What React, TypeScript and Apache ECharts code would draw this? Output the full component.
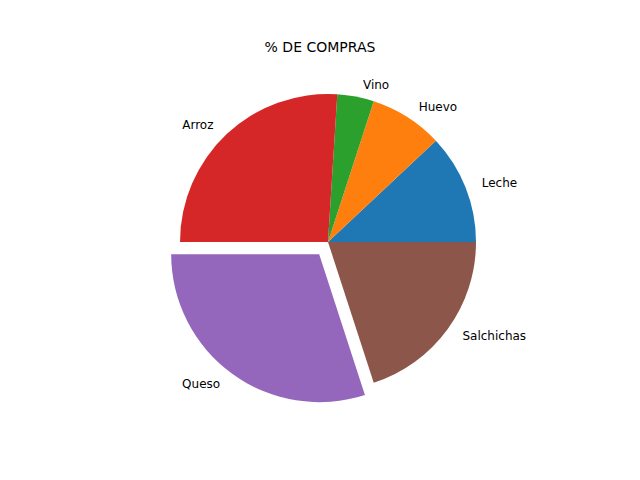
import React, { useEffect, useRef } from 'react';
import * as echarts from 'echarts';

const categories = ['Leche', 'Huevo', 'Vino', 'Arroz', 'Queso', 'Salchichas'];
const values = [12, 8, 4, 26, 30, 20];
const colors = ['#1f77b4', '#ff7f0e', '#2ca02c', '#d62728', '#9467bd', '#8c564b'];
const exploded = 'Queso';

const App: React.FC = () => {
  const chartRef = useRef<HTMLDivElement | null>(null);

  useEffect(() => {
    document.body.style.margin = '0';
    const chart = echarts.init(chartRef.current!, undefined, { renderer: 'svg' });

    const option: echarts.EChartsOption = {
      animation: false,
      title: {
        text: '% DE COMPRAS',
        left: 'center',
        top: 35,
        textStyle: { fontFamily: 'DejaVu Sans', fontSize: 14, fontWeight: 'normal', color: '#000' },
      },
      series: [
        {
          type: 'pie',
          center: [328, 242],
          radius: 148,
          startAngle: 0,
          clockwise: false,
          selectedMode: 'single',
          selectedOffset: 15,
          color: colors,
          label: {
            show: true,
            position: 'outside',
            fontFamily: 'DejaVu Sans',
            fontSize: 12,
            color: '#000',
          },
          labelLine: { show: false, length: 12, length2: 0 },
          emphasis: { disabled: true },
          data: categories.map((name, i) => ({
            name,
            value: values[i],
            selected: name === exploded,
          })),
        },
      ],
    };

    chart.setOption(option);
    return () => {
      chart.dispose();
    };
  }, []);

  return <div ref={chartRef} style={{ width: '640px', height: '480px' }} />;
};

export default App;
